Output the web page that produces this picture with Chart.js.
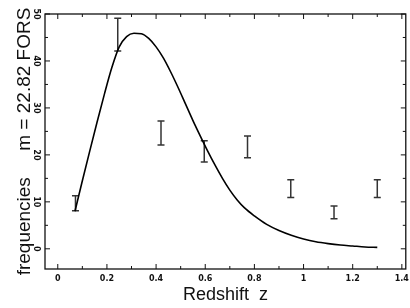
<!DOCTYPE html>
<html>
<head>
<meta charset="utf-8">
<script src="https://cdn.jsdelivr.net/npm/chart.js@4.4.1/dist/chart.umd.min.js"></script>
<style>
  html, body { margin: 0; padding: 0; background: #fff; overflow: hidden; }
</style>
</head>
<body>
<canvas id="myChart" width="414" height="308"></canvas>
<script>
// observed counts per redshift bin (error bar ends)
const obsZ = [0.072, 0.244, 0.42, 0.596, 0.772, 0.948, 1.124, 1.3];
const obsLow = [8.1, 42.1, 22.1, 18.5, 19.4, 10.9, 6.4, 10.9];
const obsHigh = [11.3, 49.1, 27.2, 23.0, 24.0, 14.7, 9.1, 14.7];

// model curve
const modelZ = [0.07, 0.10, 0.13, 0.16, 0.19, 0.22, 0.25, 0.28, 0.31, 0.34,
  0.37, 0.40, 0.43, 0.46, 0.49, 0.52, 0.55, 0.58, 0.61, 0.64,
  0.67, 0.70, 0.73, 0.76, 0.80, 0.85, 0.90, 0.95, 1.00, 1.05,
  1.10, 1.15, 1.20, 1.25, 1.30];
const modelN = [8.0, 14.5, 20.8, 27.0, 33.0, 38.6, 43.0, 45.2, 45.9, 45.8,
  44.8, 43.0, 40.6, 37.6, 34.3, 30.8, 27.3, 24.0, 20.8, 17.8,
  15.0, 12.5, 10.4, 8.7, 7.0, 5.2, 3.9, 2.9, 2.1, 1.5,
  1.1, 0.8, 0.6, 0.4, 0.3];

// tick labels
const xTicks = [0, 0.2, 0.4, 0.6, 0.8, 1, 1.2, 1.4];
const yTicks = [0, 10, 20, 30, 40, 50];
const xMinor = 0.1;
const yMinor = 5;

const ink = "#111";

const errorSets = obsZ.map((z, i) => ({
  data: [{ x: z, y: obsLow[i] }, { x: z, y: obsHigh[i] }],
  borderColor: "#333",
  borderWidth: 1.5,
  showLine: true,
  pointStyle: "line",
  pointRadius: 3.5,
  pointBorderWidth: 1.5,
  pointBorderColor: "#333",
}));

const frame = {
  id: "frame",
  afterDraw(chart) {
    const ctx = chart.ctx;
    const a = chart.chartArea;
    const xs = chart.scales.x;
    const ys = chart.scales.y;
    ctx.save();
    ctx.strokeStyle = ink;
    ctx.lineWidth = 1.3;
    ctx.strokeRect(a.left, a.top, a.right - a.left, a.bottom - a.top);
    ctx.lineWidth = 1;
    ctx.beginPath();
    for (let v = -0.1; v <= xs.max; v += xMinor) {
      const val = Math.round(v * 10) / 10;
      if (val < xs.min) continue;
      const px = xs.getPixelForValue(val);
      const len = Math.round(val * 10) % 2 === 0 ? 5 : 3;
      ctx.moveTo(px, a.bottom); ctx.lineTo(px, a.bottom - len);
      ctx.moveTo(px, a.top); ctx.lineTo(px, a.top + len);
    }
    for (let v = 0; v <= ys.max; v += yMinor) {
      const py = ys.getPixelForValue(v);
      const len = v % 10 === 0 ? 5 : 3;
      ctx.moveTo(a.left, py); ctx.lineTo(a.left + len, py);
      ctx.moveTo(a.right, py); ctx.lineTo(a.right - len, py);
    }
    ctx.stroke();
    ctx.restore();
  },
};

const config = {
  type: "scatter",
  data: {
    datasets: [
      {
        data: modelZ.map((z, i) => ({ x: z, y: modelN[i] })),
        borderColor: "#000",
        borderWidth: 1.6,
        showLine: true,
        pointRadius: 0,
        cubicInterpolationMode: "monotone",
      },
      ...errorSets,
    ],
  },
  options: {
    responsive: false,
    animation: false,
    devicePixelRatio: 1,
    layout: { padding: { top: 14, right: 2, left: 0, bottom: 0 } },
    plugins: {
      legend: { display: false },
      tooltip: { enabled: false },
    },
    scales: {
      x: {
        type: "linear",
        min: -0.052,
        max: 1.416,
        afterBuildTicks: (s) => { s.ticks = xTicks.map((v) => ({ value: v })); },
        afterFit: (s) => { s.height = 39; },
        grid: { display: false, drawTicks: false },
        border: { display: false },
        ticks: {
          padding: 5,
          color: ink,
          font: { family: "DejaVu Sans", size: 8, weight: "bold" },
          callback: (v) => String(v),
        },
        title: {
          display: true,
          text: "Redshift  z",
          color: ink,
          font: { family: "Liberation Sans", size: 18 },
          padding: { top: 0, bottom: 2 },
        },
      },
      y: {
        min: -4.3,
        max: 50,
        afterBuildTicks: (s) => { s.ticks = yTicks.map((v) => ({ value: v })); },
        afterFit: (s) => { s.width = 45; },
        grid: { display: false, drawTicks: false },
        border: { display: false },
        ticks: {
          padding: 3,
          minRotation: -90,
          crossAlign: "center",
          color: ink,
          font: { family: "DejaVu Sans", size: 8, weight: "bold" },
        },
        title: {
          display: true,
          text: "frequencies     m = 22.82 FORS",
          color: ink,
          font: { family: "Liberation Sans", size: 19 },
          padding: { top: 13, bottom: 0 },
        },
      },
    },
  },
  plugins: [frame],
};

const myChart = new Chart(document.getElementById("myChart"), config);
</script>
</body>
</html>
